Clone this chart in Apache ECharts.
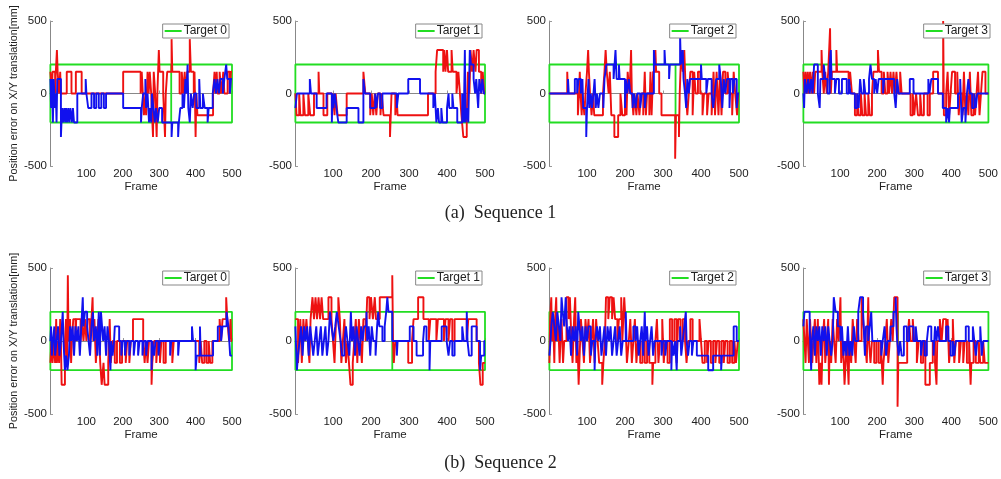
<!DOCTYPE html>
<html>
<head>
<meta charset="utf-8">
<script src="https://cdn.jsdelivr.net/npm/echarts@6/dist/echarts.min.js"></script>
<style>
html,body{margin:0;padding:0;background:#fff}
#chartmain{width:1001px;height:479px}
</style>
</head>
<body>
<div id="chartmain"></div>
<script>
// 各目标名称
var targets = ['Target 0', 'Target 1', 'Target 2', 'Target 3'];
var captions = ['(a)  Sequence 1', '(b)  Sequence 2'];
var xTicks = [100, 200, 300, 400, 500];
var yTicks = [-500, 0, 500];
// 目标框上下界和中间竖线的帧号
var targetBand = [-200, 200];
var targetBreak = [333, null, 333, null, null, 256, null, 256];

// 每段 [起始帧, 误差值]，一直保持到下一段
var s1t0Red = [[1,150],[5,0],[7,150],[14,0],[16,150],[19,300],[21,150],[25,0],[28,150],[30,0],[46,150],[59,0],[71,150],[87,0],[201,150],[249,0],[252,150],[255,0],[258,-150],[262,0],[264,-150],[268,150],[271,0],[274,150],[278,0],[283,-300],[285,150],[289,0],[293,-300],[295,0],[299,300],[301,150],[311,0],[316,-300],[318,0],[322,150],[334,375],[336,150],[356,0],[362,150],[366,0],[370,150],[373,0],[377,150],[384,375],[387,150],[395,0],[397,150],[400,-300],[402,0],[405,-150],[448,0],[452,150],[454,0],[458,150],[460,0],[466,150],[471,0],[476,150],[479,0],[488,150],[494,0],[497,150]];
var s1t0Blue = [[1,100],[3,-100],[5,100],[8,-200],[10,100],[14,-100],[16,0],[18,-200],[20,100],[30,-300],[33,-100],[36,-200],[39,-100],[42,-200],[44,-100],[47,-200],[50,-100],[53,-200],[56,-100],[60,-200],[63,-100],[66,-200],[75,0],[98,100],[100,0],[105,-100],[114,0],[121,-100],[127,0],[134,-100],[141,0],[148,-100],[154,0],[201,-100],[250,-200],[252,-100],[256,0],[262,100],[264,-100],[268,0],[272,-200],[274,-100],[278,-200],[280,0],[284,-100],[288,-200],[291,-100],[296,-200],[300,-100],[308,-200],[334,-300],[336,-200],[352,-300],[354,-200],[358,-100],[364,0],[368,-100],[372,100],[375,0],[378,200],[380,-100],[384,-200],[387,0],[392,-100],[396,0],[402,-100],[410,100],[413,-100],[420,0],[425,-100],[433,-200],[436,-100],[447,0],[452,100],[456,0],[460,100],[464,0],[468,100],[475,0],[479,100],[484,200],[487,100],[494,0],[497,100]];
var s1t1Red = [[1,0],[4,-150],[11,0],[14,-150],[22,0],[26,-150],[35,0],[40,-150],[50,0],[62,150],[64,0],[75,-150],[85,0],[97,-150],[101,0],[104,-150],[107,0],[112,-150],[136,0],[180,150],[185,0],[198,-150],[202,0],[206,-150],[210,0],[214,-150],[218,0],[225,-150],[228,0],[233,-150],[250,-300],[252,-150],[254,0],[264,-150],[267,0],[270,-150],[350,0],[370,150],[374,300],[390,150],[393,300],[396,150],[400,300],[403,150],[412,300],[415,150],[425,0],[430,150],[434,0],[438,-150],[443,-300],[452,-150],[455,150],[459,0],[462,300],[466,150],[470,300],[475,150],[478,300],[484,150],[490,0],[494,150],[498,0]];
var s1t1Blue = [[1,-100],[5,0],[39,100],[42,0],[57,-100],[83,0],[97,-200],[99,0],[101,-100],[105,0],[109,-100],[114,-200],[136,-100],[167,-200],[180,100],[184,0],[198,-100],[211,0],[214,-100],[218,0],[224,-100],[230,0],[268,-100],[272,0],[298,100],[329,0],[364,-100],[368,0],[372,-200],[376,-100],[379,-200],[385,-100],[388,-200],[400,-100],[404,0],[406,-100],[414,0],[417,-100],[427,-200],[440,0],[444,-200],[447,300],[449,-200],[452,-100],[456,-200],[460,300],[463,200],[470,100],[474,0],[477,100],[482,-100],[485,100],[490,0],[493,100],[497,0]];
var s1t2Red = [[1,0],[48,150],[50,0],[76,-150],[79,0],[81,150],[83,0],[86,-150],[88,0],[93,-150],[96,0],[100,150],[103,300],[105,150],[108,0],[112,-150],[116,0],[119,-150],[142,0],[146,150],[149,300],[152,150],[157,0],[160,150],[164,-150],[172,-300],[182,-150],[188,0],[193,-150],[200,0],[204,-150],[207,150],[212,0],[216,300],[218,0],[222,-150],[225,0],[230,-150],[233,0],[238,-150],[242,0],[248,-150],[252,150],[255,-150],[258,0],[264,-150],[267,150],[270,-150],[274,150],[280,300],[282,150],[290,0],[296,-150],[332,-450],[334,-150],[342,-300],[344,0],[348,300],[352,150],[356,300],[360,0],[364,-150],[368,0],[372,150],[378,-150],[382,150],[386,0],[392,150],[398,0],[404,-150],[408,0],[416,-150],[420,0],[428,-150],[433,150],[437,-150],[441,150],[446,-150],[450,150],[454,-150],[458,150],[464,0],[470,150],[475,0],[482,-150],[486,150],[490,0],[495,-150],[498,0]];
var s1t2Blue = [[1,0],[50,100],[52,0],[68,100],[74,0],[78,100],[84,0],[88,100],[90,-100],[98,-300],[100,-100],[104,100],[106,-100],[110,0],[113,-100],[117,0],[120,100],[123,-100],[126,0],[130,-100],[134,0],[143,-100],[146,100],[151,200],[170,100],[175,300],[178,100],[184,200],[186,100],[200,-100],[202,100],[206,0],[210,100],[214,0],[220,-100],[224,0],[228,-100],[232,0],[240,-100],[244,0],[252,-100],[256,0],[276,300],[279,200],[304,300],[306,200],[316,100],[318,200],[345,400],[347,200],[352,300],[354,100],[358,0],[361,-100],[364,100],[368,0],[371,100],[400,200],[402,100],[414,0],[418,100],[428,0],[432,-100],[436,0],[440,100],[448,200],[452,100],[456,-100],[460,100],[464,0],[468,100],[475,-100],[478,100],[484,0],[488,100],[494,-100],[497,0]];
var s1t3Red = [[1,150],[4,0],[7,150],[10,0],[13,150],[16,0],[19,150],[23,0],[26,150],[30,0],[33,150],[50,300],[52,150],[56,0],[60,150],[64,0],[68,150],[73,450],[75,0],[78,150],[90,300],[92,150],[123,0],[127,150],[132,0],[140,-150],[146,0],[150,-150],[156,0],[160,-150],[166,0],[170,-150],[176,0],[180,-150],[186,0],[190,150],[202,300],[205,150],[212,0],[218,150],[222,0],[228,150],[232,0],[236,150],[240,0],[244,150],[248,0],[252,150],[256,0],[262,150],[266,0],[290,-150],[296,0],[300,-150],[305,0],[310,-150],[316,0],[320,-150],[326,0],[336,-150],[342,0],[351,150],[364,0],[378,500],[380,-150],[386,0],[390,150],[394,-150],[398,0],[402,150],[410,0],[416,150],[420,-150],[424,0],[430,-150],[434,150],[438,-150],[442,0],[446,-150],[450,150],[454,-150],[460,0],[464,-150],[468,0],[472,150],[476,-150],[480,0],[484,150],[492,0]];
var s1t3Blue = [[1,0],[3,-100],[5,100],[10,0],[14,100],[18,0],[22,100],[26,0],[30,200],[40,0],[45,-100],[47,100],[56,200],[60,100],[66,0],[72,200],[75,300],[77,100],[86,0],[90,100],[97,0],[105,100],[118,0],[124,100],[128,0],[140,-100],[146,0],[150,-100],[154,100],[158,0],[164,100],[168,0],[178,100],[182,200],[186,100],[192,0],[196,100],[200,0],[204,100],[216,0],[219,100],[246,0],[250,-100],[254,100],[258,0],[288,100],[298,0],[338,100],[341,0],[346,100],[364,0],[377,-100],[386,-200],[390,-100],[394,-200],[396,-100],[418,0],[424,100],[428,-200],[432,-100],[438,-200],[442,0],[446,100],[450,0],[456,-100],[462,0],[466,-100],[470,0]];
var s2t0Red = [[1,-150],[4,0],[7,-150],[11,0],[14,-150],[17,150],[19,-150],[22,0],[25,-150],[28,150],[30,0],[32,-300],[41,0],[44,150],[47,-150],[49,450],[51,0],[55,150],[58,-150],[60,0],[64,150],[70,0],[72,150],[84,0],[87,150],[92,0],[96,150],[100,0],[104,150],[110,0],[114,150],[117,300],[119,0],[122,150],[126,-150],[130,0],[133,150],[138,-150],[142,-300],[147,-150],[150,-300],[160,-150],[164,150],[167,-150],[172,0],[178,-150],[184,0],[192,-150],[198,0],[208,-150],[212,0],[218,-150],[222,0],[228,150],[256,0],[260,-150],[264,0],[268,-150],[272,0],[279,-300],[281,-150],[286,0],[292,-150],[296,0],[302,-150],[306,0],[312,-150],[318,0],[336,-150],[340,0],[410,-150],[414,0],[418,-150],[424,0],[430,-150],[436,0],[440,-150],[446,0],[466,150],[470,0],[474,150],[484,300],[487,150],[492,0],[496,150],[498,0]];
var s2t0Blue = [[1,0],[3,100],[5,-100],[8,0],[12,100],[14,-100],[18,0],[22,100],[26,-100],[30,0],[35,200],[37,0],[41,-200],[44,-100],[48,-200],[52,-100],[55,100],[58,0],[62,100],[66,-100],[70,100],[74,0],[78,100],[82,-100],[86,100],[90,300],[92,100],[96,200],[102,100],[106,0],[110,-100],[114,100],[118,200],[121,0],[126,100],[130,-100],[134,200],[137,-100],[140,200],[143,100],[146,0],[150,100],[154,-100],[158,100],[162,0],[166,-200],[168,0],[172,-100],[176,0],[178,100],[190,0],[196,-100],[200,0],[206,-100],[210,0],[218,-100],[222,0],[230,-100],[234,0],[242,-100],[246,0],[254,-100],[258,0],[264,-100],[268,0],[279,-200],[281,0],[286,-100],[290,0],[298,-100],[302,0],[330,-100],[333,0],[352,-100],[355,0],[390,100],[393,0],[400,-200],[403,-100],[412,100],[414,-100],[448,0],[461,100],[470,0],[474,100],[485,200],[490,100],[495,-100]];
var s2t1Red = [[1,150],[8,-150],[11,0],[14,150],[18,-150],[22,150],[26,0],[30,150],[34,0],[38,-150],[41,150],[46,300],[50,150],[54,300],[58,150],[62,300],[66,150],[70,300],[74,150],[88,300],[96,150],[100,0],[104,-150],[108,150],[114,300],[118,150],[122,-150],[126,0],[130,150],[134,-150],[138,0],[142,-150],[146,-300],[152,-150],[156,0],[160,150],[164,-150],[168,150],[172,0],[176,-150],[180,150],[186,0],[190,300],[196,150],[200,300],[205,150],[210,300],[213,150],[223,300],[256,450],[258,0],[260,-150],[264,0],[298,-150],[308,0],[312,150],[324,300],[338,150],[352,0],[356,150],[372,0],[376,150],[392,0],[396,150],[404,0],[408,150],[414,0],[420,150],[452,0],[456,150],[478,0],[484,-150],[488,-300],[494,-150]];
var s2t1Blue = [[1,100],[5,-200],[8,-100],[12,0],[16,100],[20,-100],[24,100],[28,0],[32,100],[36,-100],[40,100],[44,0],[48,-100],[52,0],[56,100],[60,-100],[64,0],[68,100],[72,-100],[76,0],[80,100],[84,-100],[88,0],[92,200],[96,100],[101,0],[106,100],[110,200],[115,100],[120,0],[124,-100],[130,0],[134,100],[138,0],[143,-100],[147,200],[150,0],[154,100],[158,-100],[162,100],[166,0],[170,-100],[174,100],[178,0],[182,100],[188,200],[190,0],[194,100],[198,-100],[202,100],[206,0],[212,-100],[216,100],[219,200],[222,100],[230,0],[236,100],[240,200],[243,300],[246,200],[256,0],[268,-100],[270,0],[302,100],[312,0],[320,-100],[337,0],[340,100],[346,0],[354,-200],[356,0],[386,100],[399,0],[404,-100],[408,0],[414,-100],[420,0],[440,100],[444,0],[452,200],[454,0],[458,-100],[465,100],[478,0],[487,-200],[490,-100],[498,0]];
var s2t2Red = [[1,-150],[3,150],[6,300],[8,0],[11,150],[14,-150],[16,150],[19,300],[21,0],[24,150],[28,-150],[30,0],[33,150],[37,-150],[40,0],[46,300],[52,150],[55,300],[59,0],[62,-150],[66,150],[69,300],[72,-150],[75,0],[78,-300],[80,-150],[84,150],[88,0],[92,-150],[96,150],[100,0],[104,150],[108,-150],[112,0],[116,150],[120,-150],[124,150],[128,0],[132,-150],[140,-300],[143,-150],[147,0],[150,300],[156,150],[160,300],[166,150],[170,300],[174,150],[180,0],[184,150],[190,300],[193,0],[198,300],[201,150],[205,-150],[210,0],[214,150],[218,-150],[222,0],[226,150],[230,-150],[234,0],[240,-150],[246,0],[252,-150],[258,0],[264,-150],[272,-300],[274,-150],[280,0],[284,150],[288,-150],[292,0],[298,150],[302,-150],[306,0],[312,-150],[318,150],[324,0],[330,150],[336,-150],[340,150],[346,0],[352,150],[358,0],[362,-150],[366,0],[372,150],[378,0],[396,150],[400,0],[404,-150],[410,0],[416,-150],[420,0],[426,-150],[432,0],[438,-150],[442,0],[448,-150],[454,0],[460,-150],[464,0],[470,-150],[476,0],[482,-150],[488,0],[492,-150],[497,0]];
var s2t2Blue = [[1,-100],[4,0],[6,100],[10,200],[14,100],[18,0],[22,200],[26,100],[30,0],[33,300],[36,200],[40,100],[44,300],[47,100],[50,0],[54,100],[58,-100],[62,100],[66,0],[70,100],[74,-100],[77,200],[80,100],[84,0],[88,100],[92,-100],[96,100],[100,0],[104,100],[110,-100],[114,0],[120,-200],[122,0],[126,100],[130,0],[134,100],[138,-100],[142,0],[146,100],[150,-100],[154,100],[158,0],[162,100],[166,-100],[170,0],[174,100],[178,-100],[182,0],[186,100],[190,-100],[194,0],[202,200],[204,0],[222,100],[228,0],[232,100],[236,-100],[240,0],[244,100],[248,-100],[252,200],[254,0],[258,100],[262,-100],[266,0],[270,100],[274,-100],[278,0],[296,-100],[300,0],[306,-100],[310,0],[322,-200],[324,0],[328,-100],[332,0],[336,-200],[338,0],[345,100],[348,-100],[352,0],[356,100],[360,200],[362,0],[366,-100],[370,0],[376,-100],[380,0],[389,-100],[419,-200],[432,-100],[453,-200],[455,-100],[486,100],[494,0]];
var s2t3Red = [[1,150],[4,0],[7,-150],[10,150],[13,0],[16,-150],[19,150],[22,0],[25,-150],[28,0],[32,150],[36,-150],[40,150],[44,-300],[48,-150],[50,-300],[53,0],[57,150],[60,-150],[64,0],[68,150],[70,-300],[72,0],[76,-150],[80,150],[84,0],[88,-150],[92,150],[96,0],[101,300],[103,-150],[108,0],[112,-300],[115,-150],[118,0],[123,-300],[125,0],[130,-150],[134,150],[138,0],[142,-150],[146,150],[150,0],[158,300],[162,150],[167,0],[172,-150],[176,300],[178,0],[182,-150],[186,0],[192,-150],[198,0],[204,-150],[210,0],[215,-300],[217,-150],[222,0],[226,150],[230,-150],[234,0],[238,150],[242,0],[246,300],[255,-450],[257,-150],[281,0],[286,150],[290,0],[296,150],[300,0],[307,-150],[312,0],[318,-150],[324,0],[330,-300],[342,-150],[350,0],[356,-150],[360,-300],[362,0],[369,150],[374,0],[378,150],[386,0],[390,150],[394,-150],[398,0],[404,150],[408,-150],[412,0],[421,-150],[426,0],[432,-150],[436,0],[442,-150],[448,0],[452,-300],[454,-150],[460,0],[466,-150],[474,0],[478,-150],[486,0],[490,-150]];
var s2t3Blue = [[1,100],[4,200],[18,100],[22,-200],[24,0],[28,100],[32,-100],[36,100],[40,0],[44,100],[48,-100],[52,100],[56,0],[60,100],[64,-100],[68,100],[72,0],[76,-100],[80,0],[83,300],[88,200],[94,100],[101,0],[105,100],[109,-100],[113,0],[117,-100],[121,100],[125,-100],[129,0],[133,-100],[137,100],[141,0],[149,200],[154,300],[162,200],[167,-100],[170,100],[176,0],[180,100],[184,200],[187,0],[211,-100],[215,0],[220,100],[224,-100],[228,0],[236,100],[244,200],[250,300],[252,100],[254,0],[258,-100],[262,0],[266,-100],[272,100],[280,0],[286,100],[298,0],[304,100],[308,0],[318,-100],[322,0],[328,-100],[334,0],[338,100],[346,0],[352,-100],[356,100],[360,0],[364,100],[368,0],[386,100],[392,0],[398,-100],[404,0],[408,-100],[412,0],[439,100],[447,0],[458,100],[462,0],[466,-100],[470,0],[478,100],[482,-100],[486,0]];

var redRuns = [s1t0Red, s1t1Red, s1t2Red, s1t3Red, s2t0Red, s2t1Red, s2t2Red, s2t3Red];
var blueRuns = [s1t0Blue, s1t1Blue, s1t2Blue, s1t3Blue, s2t0Blue, s2t1Blue, s2t2Blue, s2t3Blue];

// 版面位置
var colLeft = [50, 295, 549, 803];
var colWidth = [182, 190, 190, 190];
var rowTop = [21, 268];
var rowHeight = [145, 146];
var axisFont = 'Liberation Sans';

// 最后一段延到第 500 帧
function closeRuns(runs){
	var out = runs.slice();
	out.push([500, runs[runs.length-1][1]]);
	return out;
}
// 目标框：左右竖线、上下横线，中间可能有一条竖线
function boxPath(brk){
	var lo = targetBand[0], hi = targetBand[1];
	var p = [[1,lo],[1,hi]];
	if(brk){
		p.push([brk,hi],[brk,lo],[brk,hi]);
	}
	p.push([500,hi],[500,lo],[1,lo]);
	return p;
}

var grids = [], xAxes = [], yAxes = [], series = [], legends = [];
for(var i=0;i<8;i++){
	var r = Math.floor(i/4), c = i%4;
	grids.push({left:colLeft[c], top:rowTop[r], width:colWidth[c], height:rowHeight[r], containLabel:false});
	xAxes.push({
		gridIndex:i, type:'value', min:0, max:500, interval:100,
		name:'Frame', nameLocation:'middle', nameGap:13,
		nameTextStyle:{fontFamily:axisFont, fontSize:11.5, color:'#222'},
		axisLine:{show:true, lineStyle:{color:'#888', width:1}},
		axisTick:{show:true, inside:true, length:3, lineStyle:{color:'#999'}},
		axisLabel:{fontFamily:axisFont, fontSize:11.5, color:'#222', margin:2,
			formatter:function(v){ return xTicks.indexOf(v) >= 0 ? String(v) : ''; }},
		splitLine:{show:false}
	});
	yAxes.push({
		gridIndex:i, type:'value', min:yTicks[0], max:yTicks[2], interval:500,
		name: c===0 ? 'Position error on X/Y translation[mm]' : '',
		nameLocation:'middle', nameGap:30, nameRotate:90,
		nameTextStyle:{fontFamily:axisFont, fontSize:10.8, color:'#222'},
		axisLine:{show:true, lineStyle:{color:'#888', width:1}},
		axisTick:{show:true, inside:true, length:3, lineStyle:{color:'#999'}},
		axisLabel:{fontFamily:axisFont, fontSize:11.5, color:'#222', margin:3},
		splitLine:{show:false}
	});
	series.push({
		name:targets[c], type:'line', xAxisIndex:i, yAxisIndex:i,
		data:boxPath(targetBreak[i]), symbol:'none', silent:true,
		lineStyle:{color:'#22dd22', width:1.8}, itemStyle:{color:'#22dd22'}
	});
	series.push({
		name:'red'+i, type:'line', xAxisIndex:i, yAxisIndex:i, step:'end',
		data:closeRuns(redRuns[i]), symbol:'none', silent:true,
		lineStyle:{color:'#ee1111', width:1.9}
	});
	series.push({
		name:'blue'+i, type:'line', xAxisIndex:i, yAxisIndex:i, step:'end',
		data:closeRuns(blueRuns[i]), symbol:'none', silent:true,
		lineStyle:{color:'#1111ee', width:1.9}
	});
	legends.push({
		data:[targets[c]], right:1001-(colLeft[c]+colWidth[c])+3, top:rowTop[r]+3,
		orient:'horizontal', padding:[1,2,1,2], itemGap:2,
		itemWidth:17, itemHeight:2, icon:'rect',
		borderColor:'#888', borderWidth:1, backgroundColor:'#fff',
		textStyle:{fontFamily:axisFont, fontSize:12, lineHeight:12, color:'#222', padding:[0,0,0,-3]}
	});
}

var myChart = echarts.init(document.getElementById('chartmain'));
myChart.setOption({
	animation:false,
	backgroundColor:'#fff',
	grid:grids,
	xAxis:xAxes,
	yAxis:yAxes,
	legend:legends,
	series:series,
	graphic:[
		{type:'text', left:'center', top:204, style:{text:captions[0], font:'18px "Liberation Serif"', fill:'#222'}},
		{type:'text', left:'center', top:454, style:{text:captions[1], font:'18px "Liberation Serif"', fill:'#222'}}
	]
});
</script>
</body>
</html>
